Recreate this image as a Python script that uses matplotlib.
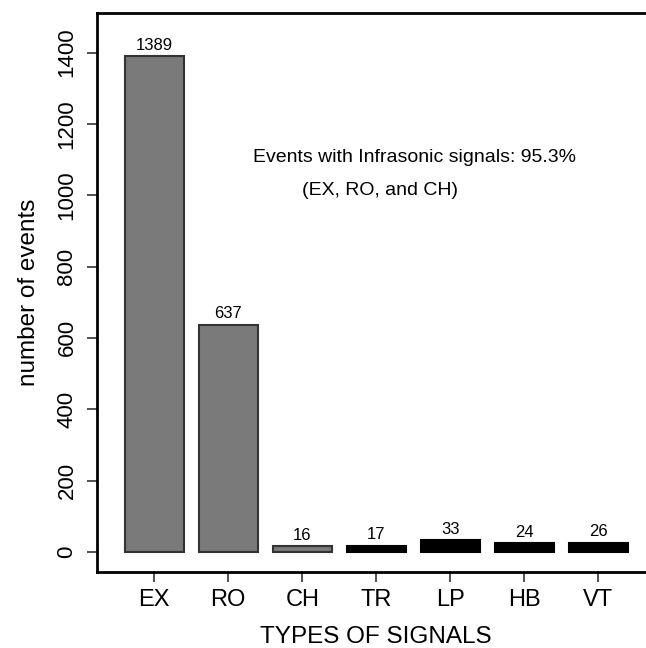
import matplotlib
matplotlib.use('Agg')
import matplotlib.pyplot as plt

plt.rcParams['font.family'] = ['Liberation Sans', 'DejaVu Sans']

# Counts per signal type
signal_types = ['EX', 'RO', 'CH', 'TR', 'LP', 'HB', 'VT']
event_counts = [1389, 637, 16, 17, 33, 24, 26]
bar_colors = ['#7a7a7a', '#7a7a7a', '#7a7a7a', 'black', 'black', 'black', 'black']
edge_colors = ['#333333', '#333333', '#333333', 'black', 'black', 'black', 'black']
y_ticks = [0, 200, 400, 600, 800, 1000, 1200, 1400]

fig = plt.figure(figsize=(6.46, 6.48), dpi=100)
# axes run past the right edge of the figure, so no right border shows
ax = fig.add_axes([0.150, 0.117, 0.865, 0.863])

x = range(len(signal_types))
ax.bar(x, event_counts, width=0.8, color=bar_colors, edgecolor=edge_colors, linewidth=1.5)

for xi, n in zip(x, event_counts):
    ax.text(xi, n + 10, str(n), ha='center', va='bottom', fontsize=12)

ax.text(1.33, 1107, 'Events with Infrasonic signals: 95.3%', ha='left', va='center', fontsize=14)
ax.text(2.0, 1014, '(EX, RO, and CH)', ha='left', va='center', fontsize=14)

ax.set_xlim(-0.774, 6.774)
ax.set_ylim(-57, 1511)
ax.set_xticks(list(x))
ax.set_xticklabels(signal_types, fontsize=17)
ax.set_yticks(y_ticks)
ax.set_yticklabels([str(v) for v in y_ticks], fontsize=16, rotation=90, va='center')
ax.tick_params(axis='both', direction='out', length=7, width=1.2, color='#333333')
ax.tick_params(axis='x', pad=5)
ax.tick_params(axis='y', pad=7)

ax.set_xlabel('TYPES OF SIGNALS', fontsize=17.5, labelpad=11)
ax.set_ylabel('number of events', fontsize=17.5, labelpad=12)

for side in ['left', 'top', 'bottom']:
    ax.spines[side].set_linewidth(2)
ax.spines['right'].set_visible(False)

fig.savefig('out.png', dpi=100)
